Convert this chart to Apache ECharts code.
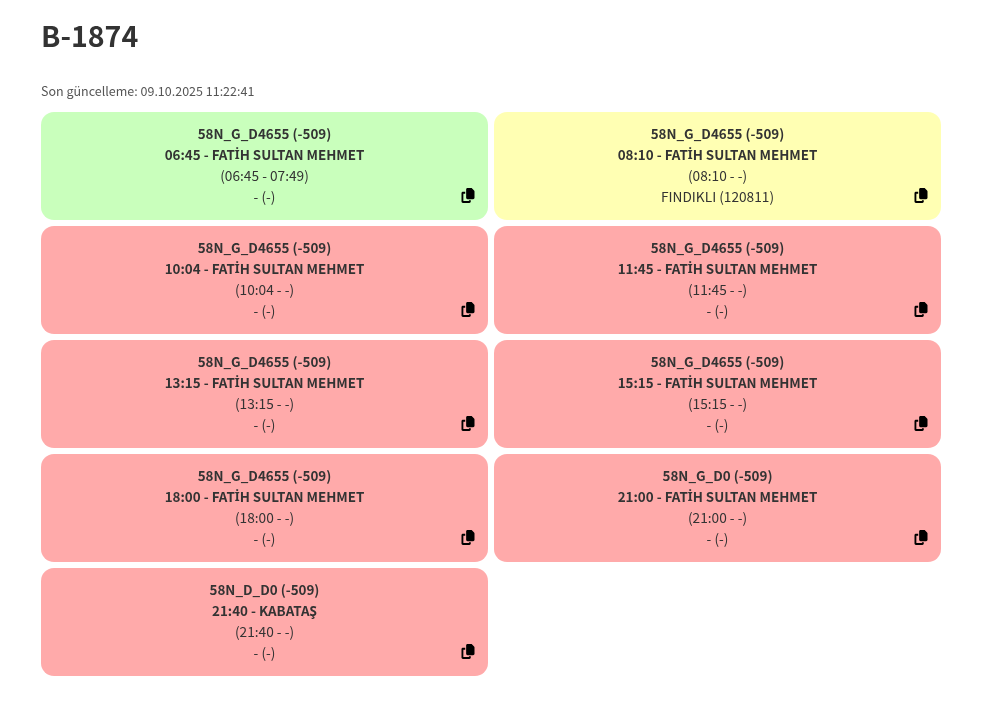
<!DOCTYPE html>
<html>
<head>
<meta charset="utf-8">
<title>B-1874</title>
<style>
  html, body { margin: 0; padding: 0; background: #fff; }
  #chart { width: 1002px; height: 704px; }
</style>
<script src="https://cdn.jsdelivr.net/npm/echarts@6/dist/echarts.min.js"></script>
</head>
<body>
<div id="chart"></div>
<script>
var pageTitle = 'B-1874';
var updatedText = 'Son güncelleme: 09.10.2025 11:22:41';

// kart verileri, soldan saga yukaridan asagi
var columns = [0, 1, 0, 1, 0, 1, 0, 1, 0];
var rows = [0, 0, 1, 1, 2, 2, 3, 3, 4];
var routes = ['58N_G_D4655 (-509)', '58N_G_D4655 (-509)', '58N_G_D4655 (-509)', '58N_G_D4655 (-509)', '58N_G_D4655 (-509)', '58N_G_D4655 (-509)', '58N_G_D4655 (-509)', '58N_G_D0 (-509)', '58N_D_D0 (-509)'];
var departures = ['06:45 - FATİH SULTAN MEHMET', '08:10 - FATİH SULTAN MEHMET', '10:04 - FATİH SULTAN MEHMET', '11:45 - FATİH SULTAN MEHMET', '13:15 - FATİH SULTAN MEHMET', '15:15 - FATİH SULTAN MEHMET', '18:00 - FATİH SULTAN MEHMET', '21:00 - FATİH SULTAN MEHMET', '21:40 - KABATAŞ'];
var spans = ['(06:45 - 07:49)', '(08:10 - -)', '(10:04 - -)', '(11:45 - -)', '(13:15 - -)', '(15:15 - -)', '(18:00 - -)', '(21:00 - -)', '(21:40 - -)'];
var stops = ['- (-)', 'FINDIKLI (120811)', '- (-)', '- (-)', '- (-)', '- (-)', '- (-)', '- (-)', '- (-)'];
var states = ['done', 'active', 'waiting', 'waiting', 'waiting', 'waiting', 'waiting', 'waiting', 'waiting'];

var stateColors = { done: '#c9ffbc', active: '#ffffb3', waiting: '#ffaaaa' };
var copyIcon = 'M208 0H332.1c12.7 0 24.9 5.1 33.9 14.1l67.9 67.9c9 9 14.1 21.2 14.1 33.9V336c0 26.5-21.5 48-48 48H208c-26.5 0-48-21.5-48-48V48c0-26.5 21.5-48 48-48zM48 128h80v64H64V448H256V416h64v48c0 26.5-21.5 48-48 48H48c-26.5 0-48-21.5-48-48V176c0-26.5 21.5-48 48-48z';
var fontName = '"Noto Sans CJK SC", "Noto Sans", sans-serif';
var gap = 6;

function textLine(str, x, y, bold) {
    var base = {
        fontFamily: fontName, fontSize: bold ? 13.4 : 13.7,
        fontWeight: bold ? 700 : 400,
        fill: '#333'
    };
    // CJK fontunda İ bozuk cikiyor, o harf icin ayri font
    var parts = str.split('İ');
    var text = parts.length > 1 ? '{a|' + parts[0] + '}{b|İ}{a|' + parts[1] + '}' : str;
    return {
        type: 'text',
        style: Object.assign({
            text: text, x: x, y: y,
            align: 'center', verticalAlign: 'middle',
            rich: {
                a: base,
                b: { fontFamily: '"Noto Sans"', fontSize: 12.5, fontWeight: 700, fill: '#333' }
            }
        }, base)
    };
}

function renderCard(params, api) {
    var i = params.dataIndex;
    var c = api.coord([api.value(0), api.value(1)]);
    var size = api.size([1, 1]);
    var w = size[0] - gap, h = size[1] - gap;
    var left = c[0] - w / 2, top = c[1] - h / 2;
    return {
        type: 'group',
        children: [
            { type: 'rect', shape: { x: left, y: top, width: w, height: h, r: 13 }, style: { fill: stateColors[states[i]] } },
            textLine(routes[i], c[0], top + 22, true),
            textLine(departures[i], c[0], top + 43, true),
            textLine(spans[i], c[0], top + 64, false),
            textLine(stops[i], c[0], top + 85, false),
            { type: 'path', shape: { pathData: copyIcon, x: left + w - 26.5, y: top + 76, width: 13, height: 15 }, style: { fill: '#000' } }
        ]
    };
}

var mychart = echarts.init(document.getElementById('chart'));
var option = {
    animation: false,
    backgroundColor: '#fff',
    title: [
        { text: pageTitle, left: 41, top: 22, padding: 0, textStyle: { fontFamily: fontName, fontSize: 28.5, fontWeight: 700, color: '#333' } },
        { text: updatedText, left: 41, top: 85, padding: 0, textStyle: { fontFamily: fontName, fontSize: 12.5, fontWeight: 400, color: '#555' } }
    ],
    grid: { left: 38, top: 109, width: 906, height: 570 },
    xAxis: { type: 'category', data: [0, 1], show: false },
    yAxis: { type: 'category', data: [0, 1, 2, 3, 4], inverse: true, show: false },
    series: [{
        type: 'custom',
        renderItem: renderCard,
        data: columns.map(function (col, i) { return [col, rows[i]]; })
    }]
};
mychart.setOption(option);
</script>
</body>
</html>
